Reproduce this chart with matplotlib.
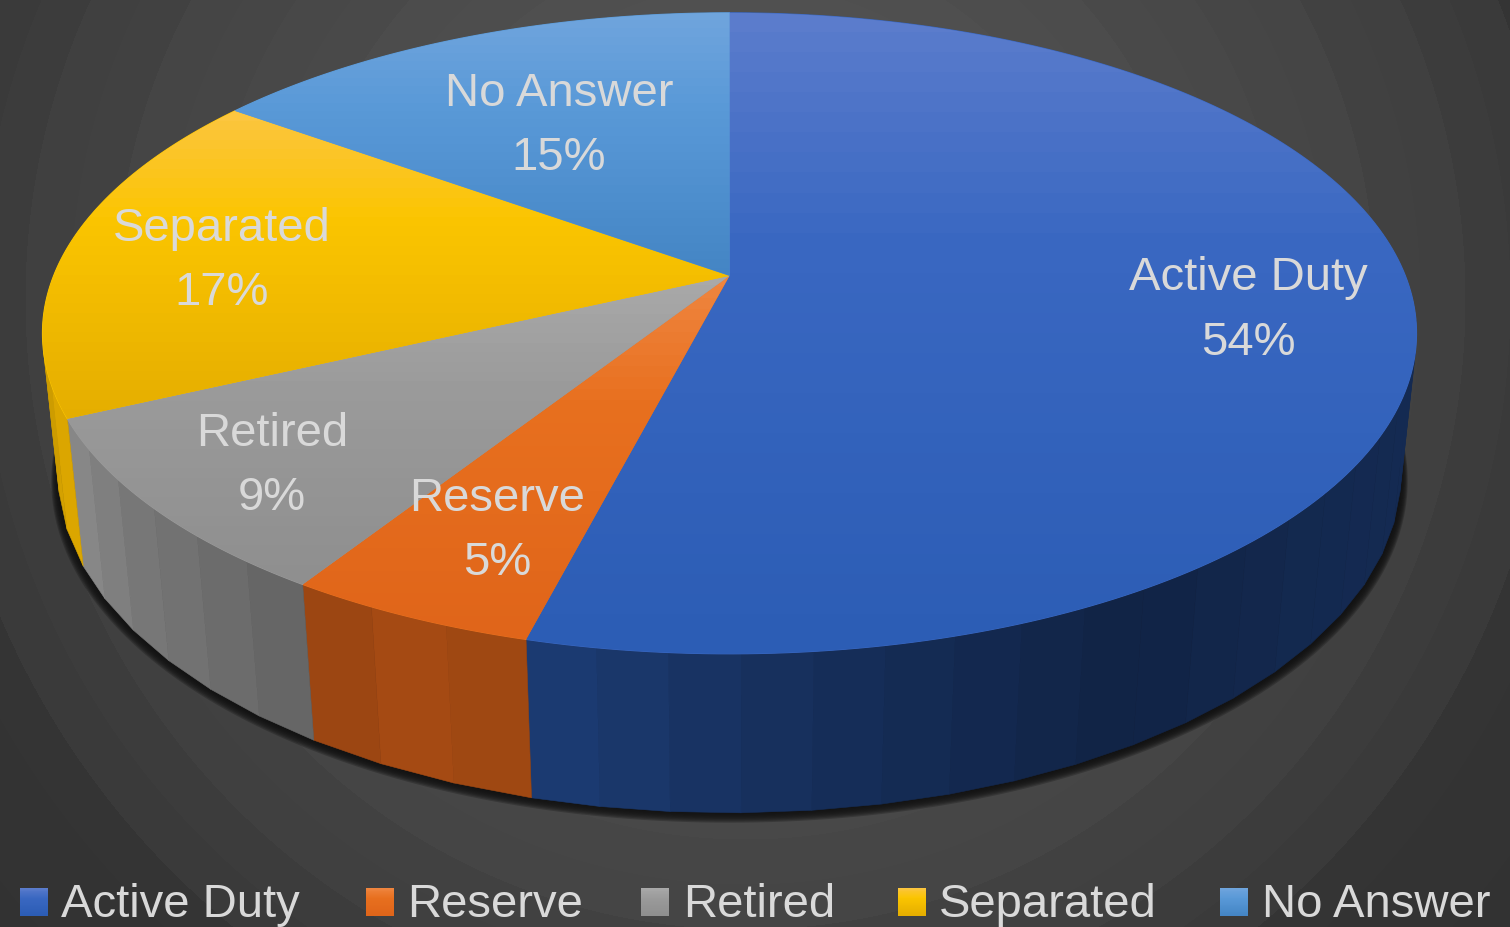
import numpy as np
import matplotlib
matplotlib.use("Agg")
import matplotlib.pyplot as plt
from matplotlib.colors import to_rgb
from matplotlib.patches import Polygon, Rectangle

categories = ["Active Duty", "Reserve", "Retired", "Separated", "No Answer"]
shares = [54, 5, 9, 17, 15]

# top / middle / bottom of each slice's vertical gradient
grad_top = ["#5b7ccc", "#ef853f", "#a9a9a9", "#fcc63f", "#6fa5dd"]
grad_mid = ["#3a68c2", "#e8701f", "#9b9b9b", "#fbc500", "#5a9ad8"]
grad_bot = ["#2c5db5", "#e0651a", "#8f8f8f", "#e5ae00", "#4485c5"]

# wall brightness relative to the slice's bottom colour, by clockwise angle
wall_angles = [95, 130, 150, 175, 194, 200, 212, 218, 232, 245, 265]
wall_factor = [0.46, 0.44, 0.38, 0.50, 0.64, 0.76, 0.68, 0.74, 0.84, 0.97, 0.87]

W, H = 1510, 928
CX, CY = 729.5, 276.8
A, B, K = 675.9, 310.2, 0.1794
DROP, M = 142.7, 0.0227
TEXT = "#d9d9d9"
FONT = ["Liberation Sans", "DejaVu Sans"]


def project(theta, lower=False, r=1.0):
    # perspective view of a flat disc, theta clockwise from the far side
    t = np.radians(theta)
    u, v = r * np.sin(t), r * np.cos(t)
    w = 1 + K * v + (M if lower else 0)
    return CX + A * u / w, CY + (-B * v + (DROP if lower else 0)) / w


def gradient(ax, top, mid, bot, y0, y1, clip, x0=0, x1=W, steps=32):
    s = np.linspace(0, 1, steps)
    rgb = [np.interp(s, [0, 0.35, 1], [to_rgb(top)[i], to_rgb(mid)[i], to_rgb(bot)[i]]) for i in range(3)]
    img = np.dstack(rgb).reshape(steps, 1, 3)
    im = ax.imshow(img, extent=(x0, x1, y1, y0), aspect="auto", interpolation="nearest", zorder=3)
    im.set_clip_path(clip)


fig = plt.figure(figsize=(W / 100, H / 100), dpi=100)
ax = fig.add_axes([0, 0, 1, 1])

# banded radial background
yy, xx = np.mgrid[0:H, 0:W]
dist = np.hypot(xx - 745, yy - 300)
bands = np.floor(dist / 45) * 45
grey = np.interp(bands, [0, 300, 580, 750, 820, 1000], [82, 80, 69, 60, 52, 50]) / 255
ax.imshow(grey, cmap="gray", vmin=0, vmax=1, extent=(0, W, H, 0), aspect="auto", interpolation="bilinear", zorder=0)

# soft shadow under the disc
angles = np.linspace(0, 360, 361)
for e in np.linspace(0.02, 0.0, 9):
    sx, sy = project(angles, lower=True, r=1 + e * 0.5)
    ax.add_patch(Polygon(np.column_stack([sx, sy + e * 250]), closed=True, fc="#111111", ec="none", alpha=0.28, zorder=1))

edges = np.cumsum([0] + shares) * 3.6

# side wall, in flat facets like the original
for i in range(len(shares)):
    start, end = max(edges[i], 98), min(edges[i + 1], 263)
    if end <= start:
        continue
    n = max(int((end - start) / 5), 1)
    cuts = np.linspace(start, end, n + 1)
    base = np.array(to_rgb(grad_bot[i]))
    for a, b in zip(cuts[:-1], cuts[1:]):
        th = np.array([a, b])
        tx, ty = project(th)
        bx, by = project(th, lower=True)
        f = np.interp((a + b) / 2, wall_angles, wall_factor)
        col = np.clip(base * f, 0, 1)
        ax.add_patch(Polygon(np.column_stack([np.r_[tx, bx[::-1]], np.r_[ty, by[::-1]]]), closed=True,
                             fc=col, ec=col, lw=0.4, zorder=2))

# top face, a flat underlay keeps the clipped gradients free of seams
for i in range(len(shares)):
    th = np.linspace(edges[i], edges[i + 1], 200)
    px, py = project(th)
    pts = np.column_stack([np.r_[CX, px], np.r_[CY, py]])
    ax.add_patch(Polygon(pts, closed=True, fc=grad_mid[i], ec=grad_mid[i], lw=0.8, zorder=2.5))
for i in range(len(shares)):
    th = np.linspace(edges[i], edges[i + 1], 200)
    px, py = project(th)
    pts = np.column_stack([np.r_[CX, px], np.r_[CY, py]])
    clip = Polygon(pts, closed=True, transform=ax.transData, fc="none", ec="none")
    ax.add_patch(clip)
    gradient(ax, grad_top[i], grad_mid[i], grad_bot[i], min(py.min(), CY), max(py.max(), CY), clip)

# data labels, split in name and percent lines
label_x = [1248, 497, 272, 222, 559]
name_base = [290, 511, 446, 241, 106]
pct_base = [355, 575, 510, 305, 170]
for i, name in enumerate(categories):
    ax.text(label_x[i], name_base[i], name, color=TEXT, fontsize=34, family=FONT, ha="center", va="baseline", zorder=5)
    ax.text(label_x[i], pct_base[i], f"{shares[i]}%", color=TEXT, fontsize=34, family=FONT, ha="center", va="baseline", zorder=5)

# legend
swatch_x = [20, 366, 641, 898, 1220]
legend_x = [61, 407, 683, 939, 1262]
for i, name in enumerate(categories):
    box = Rectangle((swatch_x[i], 889), 28, 28, transform=ax.transData, fc="none", ec="none")
    ax.add_patch(box)
    gradient(ax, grad_top[i], grad_mid[i], grad_bot[i], 889, 917, box, swatch_x[i], swatch_x[i] + 28)
    ax.text(legend_x[i], 917, name, color=TEXT, fontsize=34, family=FONT, ha="left", va="baseline", zorder=5)

ax.set_xlim(0, W)
ax.set_ylim(H, 0)
ax.axis("off")
fig.savefig("out.png", dpi=100)
